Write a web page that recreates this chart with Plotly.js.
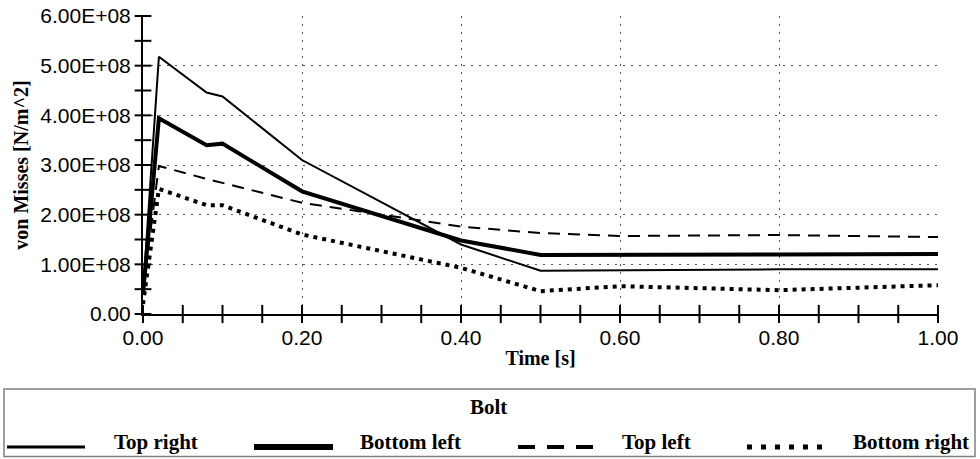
<!DOCTYPE html>
<html><head><meta charset="utf-8">
<script src="https://cdn.plot.ly/plotly-3.0.1.min.js"></script>
<style>html,body{margin:0;padding:0;background:#fff}#chart{width:980px;height:459px}</style>
</head><body><div id="chart"></div>
<script>
// ---- data ----
const time        = [0, 0.02, 0.08, 0.10, 0.20, 0.40, 0.50, 0.60, 0.80, 1.00];
const topRight    = [0.45e8, 5.18e8, 4.46e8, 4.38e8, 3.10e8, 1.40e8, 0.87e8, 0.88e8, 0.90e8, 0.90e8];
const bottomLeft  = [0.40e8, 3.94e8, 3.40e8, 3.43e8, 2.47e8, 1.48e8, 1.19e8, 1.20e8, 1.20e8, 1.21e8];
const topLeft     = [0.50e8, 2.98e8, 2.72e8, 2.64e8, 2.24e8, 1.76e8, 1.63e8, 1.57e8, 1.59e8, 1.55e8];
const bottomRight = [0.20e8, 2.52e8, 2.19e8, 2.19e8, 1.60e8, 0.93e8, 0.46e8, 0.56e8, 0.48e8, 0.58e8];
const seriesNames = ['Top right', 'Bottom left', 'Top left', 'Bottom right'];
const legendTitle = 'Bolt';
const xTickVals = [0, 0.2, 0.4, 0.6, 0.8, 1.0];
const xTickText = ['0.00', '0.20', '0.40', '0.60', '0.80', '1.00'];
const yTickVals = [0, 1e8, 2e8, 3e8, 4e8, 5e8, 6e8];
const yTickText = ['0.00', '1.00E+08', '2.00E+08', '3.00E+08', '4.00E+08', '5.00E+08', '6.00E+08'];
const xRange = [0, 1], yRange = [0, 6e8];
const xMinorStep = 0.05;
const yMinorStep = 0.5e8;
const xTitle = 'Time [s]';
const yTitle = 'von Misses [N/m^2]';

// ---- layout geometry ----
const W = 980, H = 459, ML = 143, MR = 42, MT = 16, MB = 145;
const PW = W - ML - MR, PH = H - MT - MB;
const px = x => (x - ML) / PW;
const py = y => (H - MB - y) / PH;

const SANS = 'Arial, "Liberation Sans", sans-serif';
const SERIF = '"Times New Roman", "Liberation Serif", serif';

const styles = [
  {width: 2, dash: 'solid'},
  {width: 4, dash: 'solid'},
  {width: 2, dash: '12px,8px'},
  {width: 4, dash: '4px,5px'}
];
const values = [topRight, bottomLeft, topLeft, bottomRight];

const traces = values.map((v, i) => ({
  type: 'scatter', mode: 'lines', name: seriesNames[i],
  x: time, y: v,
  line: {color: '#000', width: styles[i].width, dash: styles[i].dash},
  showlegend: false
}));

// crossing axis tick marks: tick positions from range and step, placed through the axes' scales
const xTickPos = [], yTickPos = [];
for (let k = 0; k <= Math.round((xRange[1] - xRange[0]) / xMinorStep); k++) xTickPos.push(xRange[0] + k * xMinorStep);
for (let k = 0; k <= Math.round((yRange[1] - yRange[0]) / yMinorStep); k++) yTickPos.push(yRange[0] + k * yMinorStep);
traces.push({
  type: 'scatter', mode: 'markers', x: xTickPos, y: xTickPos.map(() => yRange[0]),
  marker: {symbol: 'line-ns', size: 13, color: '#000', line: {color: '#000', width: 2}},
  cliponaxis: false, showlegend: false, hoverinfo: 'skip'
});
traces.push({
  type: 'scatter', mode: 'markers', x: yTickPos.map(() => xRange[0]), y: yTickPos,
  marker: {symbol: 'line-ew', size: 12, color: '#000', line: {color: '#000', width: 2}},
  cliponaxis: false, showlegend: false, hoverinfo: 'skip'
});

// legend drawn by hand (box, samples, labels)
const legendSamples = [
  {x0: 7, x1: 85, width: 3, dash: 'solid'},
  {x0: 254, x1: 333, width: 6, dash: 'solid'},
  {x0: 518, x1: 593, width: 4, dash: '17px,12px'},
  {x0: 747, x1: 822, width: 5, dash: '5px,9px'}
];
const legendTextX = [112, 358, 620, 851];
const shapes = [{
  type: 'rect', xref: 'paper', yref: 'paper',
  x0: px(4), x1: px(975), y0: py(389), y1: py(456.5),
  line: {color: '#808080', width: 1.5}, fillcolor: 'rgba(0,0,0,0)'
}];
legendSamples.forEach(s => shapes.push({
  type: 'line', xref: 'paper', yref: 'paper',
  x0: px(s.x0), x1: px(s.x1), y0: py(447), y1: py(447),
  line: {color: '#000', width: s.width, dash: s.dash}
}));
const legFont = {family: SERIF, size: 21, color: '#000', weight: 'bold'};
const annotations = [{
  xref: 'paper', yref: 'paper', x: px(488), y: py(407), xanchor: 'center', yanchor: 'middle',
  text: legendTitle, showarrow: false, font: legFont
}];
seriesNames.forEach((n, i) => annotations.push({
  xref: 'paper', yref: 'paper', x: px(legendTextX[i]), y: py(442), xanchor: 'left', yanchor: 'middle',
  text: n, showarrow: false, font: legFont
}));

const tickFont = {family: SANS, size: 21, color: '#000'};
const gridCommon = {showgrid: true, gridcolor: '#555', gridwidth: 1, griddash: '2px,6px'};

const layout = {
  width: W, height: H,
  margin: {l: ML, r: MR, t: MT, b: MB},
  paper_bgcolor: '#fff', plot_bgcolor: '#fff',
  showlegend: false,
  xaxis: Object.assign({
    range: xRange, tickmode: 'array', tickvals: xTickVals, ticktext: xTickText,
    ticks: '', ticklabelstandoff: 4,
    showline: true, linecolor: '#000', linewidth: 2, zeroline: false,
    tickfont: tickFont,
    title: {text: xTitle, font: {family: SERIF, size: 20, color: '#000', weight: 'bold'}, standoff: 3}
  }, gridCommon),
  yaxis: Object.assign({
    range: yRange, tickmode: 'array', tickvals: yTickVals, ticktext: yTickText,
    ticks: '', ticklabelstandoff: 6,
    showline: true, linecolor: '#000', linewidth: 2, zeroline: false,
    tickfont: tickFont,
    title: {text: yTitle, font: {family: SERIF, size: 20, color: '#000', weight: 'bold'}, standoff: 6}
  }, gridCommon),
  shapes: shapes,
  annotations: annotations
};

Plotly.newPlot('chart', traces, layout, {displayModeBar: false, staticPlot: true});
</script>
</body></html>
